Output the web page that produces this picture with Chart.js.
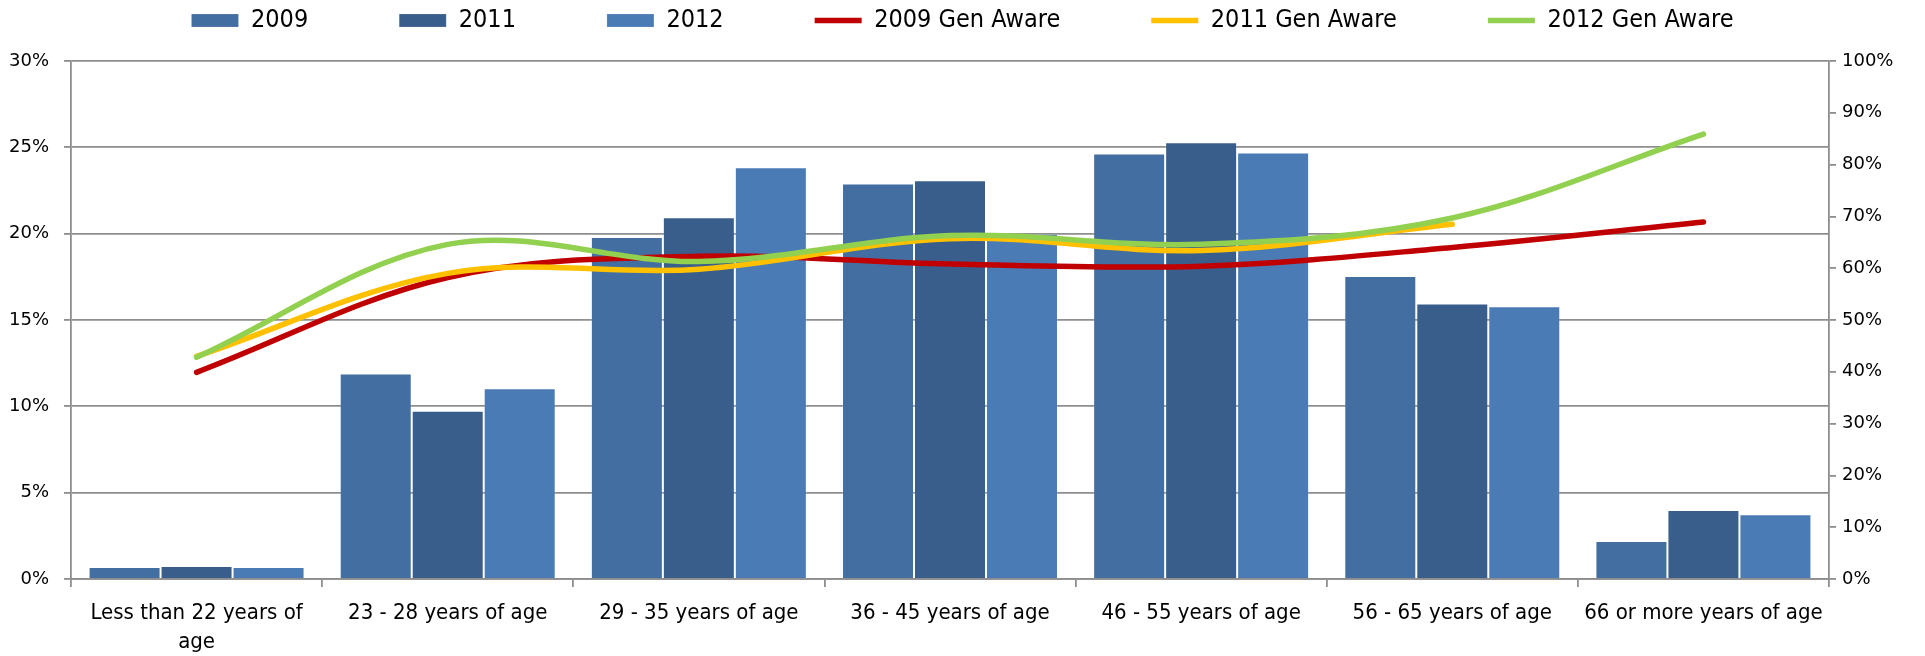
<!DOCTYPE html>
<html>
<head>
<meta charset="utf-8">
<script src="https://cdn.jsdelivr.net/npm/chart.js@4.4.1/dist/chart.umd.min.js"></script>
<style>
  html, body { margin: 0; padding: 0; background: #fff; }
  #wrap { width: 1925px; height: 656px; position: relative; }
</style>
</head>
<body>
<div id="wrap"><canvas id="edades"></canvas></div>
<script>
const categorias = [
    ["Less than 22 years of", "age"],
    "23 - 28 years of age",
    "29 - 35 years of age",
    "36 - 45 years of age",
    "46 - 55 years of age",
    "56 - 65 years of age",
    "66 or more years of age"
];

// barras (eje izquierdo, %)
const valores_2009 = [0.7, 11.9, 19.8, 22.9, 24.65, 17.55, 2.2];
const valores_2011 = [0.75, 9.75, 20.95, 23.1, 25.3, 15.95, 4.0];
const valores_2012 = [0.7, 11.05, 23.85, 20.0, 24.7, 15.8, 3.75];

// lineas (eje derecho, %)
const aware_2009 = [39.9, 58.2, 62.3, 60.8, 60.4, 64.0, 68.9];
const aware_2011 = [43.0, 59.0, 59.8, 65.7, 63.4, 68.5, null];
const aware_2012 = [42.8, 64.6, 61.3, 66.3, 64.6, 69.7, 85.9];

const ticksIzq = [0, 5, 10, 15, 20, 25, 30];
const ticksDer = [0, 10, 20, 30, 40, 50, 60, 70, 80, 90, 100];

const color2009 = '#436EA1';
const color2011 = '#3A5E8B';
const color2012 = '#4A7BB5';
const colorRojo = '#C00000';
const colorAmarillo = '#FFC000';
const colorVerde = '#92D050';
const gris = '#8E8E8E';

const fuenteTexto = "'Liberation Sans Narrow', 'DejaVu Sans Condensed', 'Liberation Sans', sans-serif";
const fuenteEjes = "'DejaVu Sans', Verdana, sans-serif";

// el legend de Chart.js no deja separar alto y padding, se ajusta a mano
const ajusteLegend = {
    id: 'ajusteLegend',
    beforeUpdate(chart) {
        const lg = chart.legend;
        if (!lg || lg._ajustado) return;
        const fitOriginal = lg.fit;
        lg.fit = function () {
            fitOriginal.call(this);
            this.height = 144;
        };
        lg._ajustado = true;
    }
};

function barra(label, data, color) {
    return {
        type: 'bar',
        label: label,
        data: data,
        backgroundColor: color,
        borderColor: 'rgba(255,255,255,0.15)',
        borderWidth: 1,
        yAxisID: 'y',
        order: 4,
        barPercentage: 1.0,
        categoryPercentage: 0.86
    };
}

function linea(label, data, color, orden) {
    return {
        type: 'line',
        label: label,
        data: data,
        borderColor: color,
        backgroundColor: color,
        borderWidth: 5.5,
        borderCapStyle: 'round',
        pointRadius: 0,
        pointHoverRadius: 0,
        tension: 0.35,
        fill: false,
        spanGaps: false,
        yAxisID: 'y1',
        order: orden
    };
}

function grafico_edades() {
    const ctx = document.getElementById('edades');
    new Chart(ctx, {
        data: {
            labels: categorias,
            datasets: [
                barra('2009', valores_2009, color2009),
                barra('2011', valores_2011, color2011),
                barra('2012', valores_2012, color2012),
                linea('2009 Gen Aware', aware_2009, colorRojo, 3),
                linea('2011 Gen Aware', aware_2011, colorAmarillo, 2),
                linea('2012 Gen Aware', aware_2012, colorVerde, 1)
            ]
        },
        options: {
            responsive: true,
            maintainAspectRatio: false,
            animation: false,
            layout: { padding: { top: -83, left: 0, right: 0, bottom: 0 } },
            plugins: {
                tooltip: { enabled: false },
                legend: {
                    position: 'top',
                    align: 'center',
                    labels: {
                        usePointStyle: true,
                        pointStyleWidth: 47,
                        boxHeight: 13,
                        padding: 91,
                        color: '#000',
                        font: { family: fuenteTexto, size: 25 },
                        sort: (a, b) => a.datasetIndex - b.datasetIndex,
                        generateLabels(chart) {
                            const items = Chart.defaults.plugins.legend.labels.generateLabels(chart);
                            items.forEach(it => {
                                const ds = chart.data.datasets[it.datasetIndex];
                                it.pointStyle = ds.type === 'line' ? 'line' : 'rect';
                            });
                            return items;
                        }
                    }
                }
            },
            scales: {
                x: {
                    offset: true,
                    border: { display: true, color: gris, width: 1.8 },
                    grid: { offset: true, drawOnChartArea: false, drawTicks: true, tickLength: 8, color: gris, lineWidth: 1.8 },
                    ticks: {
                        color: '#000',
                        font: { family: fuenteTexto, size: 22, lineHeight: 1.35 },
                        padding: 11,
                        maxRotation: 0,
                        autoSkip: false
                    },
                    afterFit(scale) { scale.height = 77; }
                },
                y: {
                    position: 'left',
                    min: 0,
                    max: 30,
                    border: { display: true, color: gris, width: 1.8 },
                    grid: { color: gris, lineWidth: 1.8, drawTicks: true, tickLength: 7 },
                    afterBuildTicks(scale) { scale.ticks = ticksIzq.map(v => ({ value: v })); },
                    ticks: {
                        color: '#000',
                        font: { family: fuenteEjes, size: 18 },
                        padding: 15,
                        callback: v => v + '%'
                    },
                    afterFit(scale) { scale.width = 71; }
                },
                y1: {
                    position: 'right',
                    min: 0,
                    max: 100,
                    border: { display: true, color: gris, width: 1.8 },
                    grid: { drawOnChartArea: false, drawTicks: true, tickLength: 7, color: gris, lineWidth: 1.8 },
                    afterBuildTicks(scale) { scale.ticks = ticksDer.map(v => ({ value: v })); },
                    ticks: {
                        color: '#000',
                        font: { family: fuenteEjes, size: 18 },
                        padding: 6,
                        callback: v => v + '%'
                    },
                    afterFit(scale) { scale.width = 96; }
                }
            }
        },
        plugins: [ajusteLegend]
    });
}

grafico_edades();
</script>
</body>
</html>
